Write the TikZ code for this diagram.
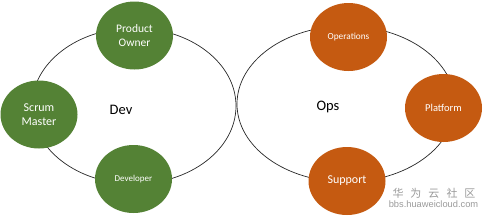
\documentclass[tikz,border=0pt]{standalone}
\usepackage{fontspec}
\setmainfont{Carlito}
\newfontfamily\cjkfont{Noto Sans CJK SC}
\newfontfamily\wmfont{Liberation Sans}
\usetikzlibrary{shapes.geometric}
\definecolor{devgreen}{HTML}{548235}
\definecolor{opsorange}{HTML}{C55A11}
\definecolor{wmgray}{HTML}{9A9A9A}
\tikzset{
  ring/.style={draw=black!85, line width=0.7pt, ellipse},
  role/.style={ellipse, inner sep=0pt, text=white, align=center,
    minimum width=77pt, minimum height=68pt},
  devrole/.style={role, fill=devgreen},
  opsrole/.style={role, fill=opsorange},
  team/.style={text=black, font=\fontsize{14.5}{16}\selectfont},
}
\begin{document}
\begin{tikzpicture}[x=1pt,y=-1pt]
\useasboundingbox (0,0) rectangle (488,220);
% rings
\node[ring, minimum width=204pt, minimum height=156pt] (devring) at (134,106) {};
\node[ring, minimum width=218pt, minimum height=156pt] (opsring) at (346,104) {};
% team labels
\node[team] (dev) at (121,110) {Dev};
\node[team] (ops) at (328,107) {Ops};
% dev roles
\node[devrole, font=\fontsize{11.5}{14.5}\selectfont] (po) at (134.5,35.5) {Product\\Owner};
\node[devrole, font=\fontsize{12}{14.5}\selectfont] (sm) at (39,114.5) {Scrum\\Master};
\node[devrole, font=\fontsize{9}{11}\selectfont] (devr) at (133.5,179) {Developer};
% ops roles
\node[opsrole, font=\fontsize{9.3}{11}\selectfont] (oper) at (348.5,37) {Operations};
\node[opsrole, font=\fontsize{10.5}{12}\selectfont] (plat) at (443.5,108) {Platform};
\node[opsrole, font=\fontsize{12}{14}\selectfont] (supp) at (347,181) {Support};
% watermark
\node[text=wmgray, font=\cjkfont\fontsize{11}{12}\selectfont, inner sep=0pt] (wm1) at (434,193)
  {华\hspace{7pt}为\hspace{7pt}云\hspace{7pt}社\hspace{7pt}区};
\node[text=wmgray, font=\wmfont\fontsize{9.3}{10}\selectfont, inner sep=0pt] (wm2) at (433.5,204.5)
  {bbs.huaweicloud.com};
\end{tikzpicture}
\end{document}
